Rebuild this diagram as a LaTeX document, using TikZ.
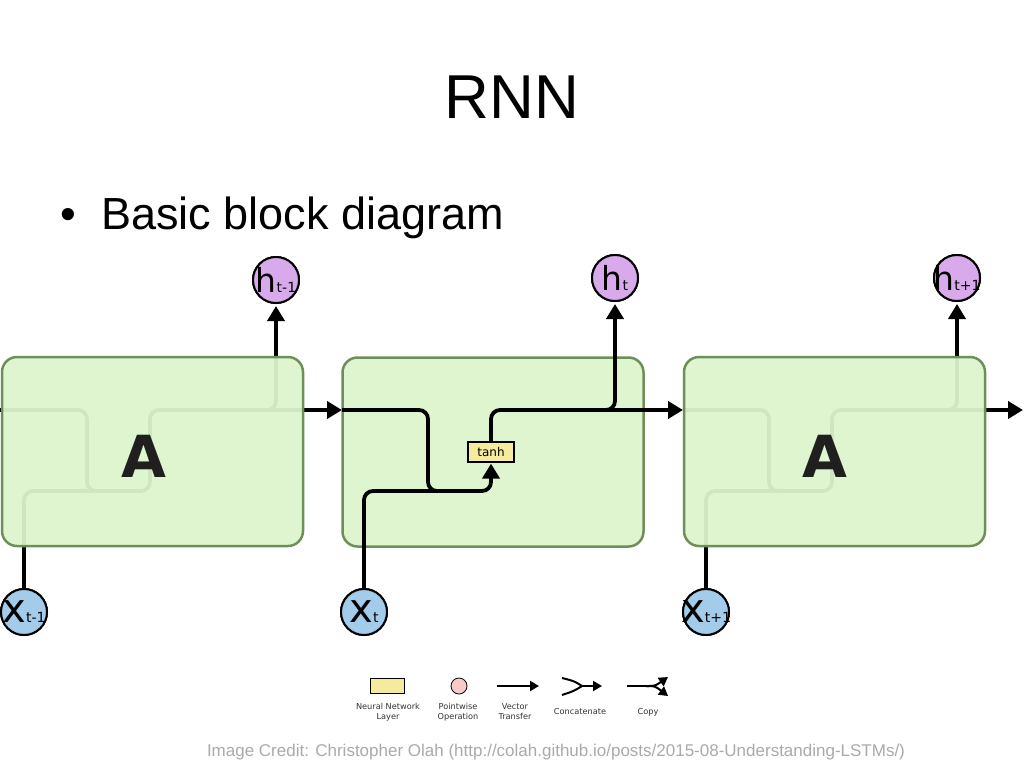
\documentclass[tikz,border=0pt]{standalone}
\usepackage{fontspec}
\setmainfont{Liberation Sans}
\newfontfamily\dejavu{DejaVu Sans}
\usetikzlibrary{arrows.meta}
\definecolor{boxfill}{HTML}{DEF5CD}
\definecolor{boxline}{HTML}{6F8F5A}
\definecolor{hcol}{HTML}{D9AAEB}
\definecolor{xcol}{HTML}{A3CBEA}
\definecolor{layercol}{HTML}{F5EB9E}
\definecolor{pwcol}{HTML}{F8CACA}
\definecolor{creditgray}{HTML}{AAAAAA}
\newcommand\hlab[1]{\makebox[0pt]{{\fontsize{33}{33}\selectfont h}{\fontsize{14}{14}\selectfont #1}}}
\newcommand\xlab[1]{\makebox[0pt]{{\fontsize{40}{40}\selectfont x}{\fontsize{14}{14}\selectfont #1}}}
\begin{document}
\begin{tikzpicture}[x=1pt,y=-1pt,
  cellbox/.style={draw=boxline, line width=2.5pt, fill=boxfill, fill opacity=0.94,
    rounded corners=15pt, minimum width=301pt, minimum height=189pt, inner sep=0pt},
  bigA/.style={font=\dejavu\bfseries\fontsize{58}{58}\selectfont, text=black!88, inner sep=0pt},
  wire/.style={line width=3.8pt, rounded corners=9pt, draw=black},
  arr/.style={wire, -{Triangle[length=15pt,width=17pt]}},
  hnode/.style={circle, draw, line width=2pt, fill=hcol, minimum size=46pt, inner sep=0pt, font=\dejavu},
  xnode/.style={circle, draw, line width=2pt, fill=xcol, minimum size=46pt, inner sep=0pt, font=\dejavu},
  layer/.style={draw, line width=1.2pt, fill=layercol, minimum width=46pt, minimum height=20pt,
    inner sep=0pt, font=\dejavu\fontsize{12}{12}\selectfont},
  legtext/.style={font=\dejavu\fontsize{8.2}{10}\selectfont, align=center, text=black!80},
  legwire/.style={line width=2pt, draw=black},
  legarr/.style={legwire, -{Triangle[length=9pt,width=10pt]}},
]
\useasboundingbox (0,0) rectangle (1024,768);
\fill[white] (0,0) rectangle (1024,768);

% title and bullet
\node[font=\fontsize{62}{62}\selectfont, anchor=base] (title) at (512,118) {RNN};
\node[font=\fontsize{45}{45}\selectfont, anchor=base] (bul) at (68,229) {•};
\node[font=\fontsize{45}{45}\selectfont, anchor=base west, inner sep=0pt] (sub) at (101,229) {Basic block diagram};

% circles (placed first so that wires can refer to them; redrawn on top later)
\path
  (276,280) node[hnode] (h1) {\hlab{t-1}}
  (615,278) node[hnode] (h2) {\hlab{t}}
  (957,278) node[hnode] (h3) {\hlab{t+1}}
  (24,612)  node[xnode] (x1) {\xlab{t-1}}
  (364,612) node[xnode] (x2) {\xlab{t}}
  (706,612) node[xnode] (x3) {\xlab{t+1}};

% ---------- left cell ----------
\coordinate (inA) at (0,410);
\coordinate (tA) at (87,491);
\coordinate (mA) at (150,491);
\coordinate (outA) at (342,410);
\coordinate (jA) at (220,410);
\draw[wire] (inA) -| (tA) -- (120,491);
\draw[arr] (x1.north) |- (mA) |- (outA);
\draw[arr, shorten >=2pt] (jA) -| (h1.south);
\node[cellbox] (A1) at (152.5,451.5) {};
\node[bigA] (lA1) at (144,456) {A};

% ---------- right cell ----------
\coordinate (inC) at (684,410);
\coordinate (tC) at (769,491);
\coordinate (mC) at (832,491);
\coordinate (outC) at (1023,410);
\coordinate (jC) at (900,410);
\draw[wire] (inC) -| (tC) -- (800,491);
\draw[arr] (x3.north) |- (mC) |- (outC);
\draw[arr, shorten >=2pt] (jC) -| (h3.south);
\node[cellbox] (A3) at (834.5,451.5) {};
\node[bigA] (lA3) at (825,456) {A};

% ---------- middle cell ----------
\node[cellbox] (A2) at (493,452) {};
\node[layer] (tanh) at (491,452) {tanh};
\coordinate (inB) at (342,410);
\coordinate (tB) at (428,491);
\coordinate (mB) at (491,491);
\coordinate (outB) at (683,410);
\coordinate (jB) at (560,410);
\draw[wire] (inB) -| (tB) -- (470,491);
\draw[arr, shorten >=1pt] (x2.north) |- (mB) -- (tanh.south);
\draw[arr] (tanh.north) |- (outB);
\draw[arr, shorten >=2pt] (jB) -| (h2.south);

% circles on top
\path
  (276,280) node[hnode] {\hlab{t-1}}
  (615,278) node[hnode] {\hlab{t}}
  (957,278) node[hnode] {\hlab{t+1}}
  (24,612)  node[xnode] {\xlab{t-1}}
  (364,612) node[xnode] {\xlab{t}}
  (706,612) node[xnode] {\xlab{t+1}};

% ---------- legend ----------
\node[draw, line width=0.8pt, fill=layercol, minimum width=34pt, minimum height=15pt, inner sep=0pt] (legL) at (387,686) {};
\node[circle, draw, line width=0.8pt, fill=pwcol, minimum size=16pt, inner sep=0pt] (legP) at (459,686) {};
\coordinate (v1) at (497,686);
\coordinate (v2) at (539,686);
\draw[legarr] (v1) -- (v2);
\coordinate (c1) at (562,678);
\coordinate (c2) at (562,695);
\coordinate (cm) at (582,686);
\coordinate (c3) at (602,686);
\draw[legwire] (c1) .. controls (574,681) .. (cm);
\draw[legwire] (c2) .. controls (574,691) .. (cm);
\draw[legarr] (cm) -- (c3);
\coordinate (p1) at (627,686);
\coordinate (pm) at (646,686);
\coordinate (p2) at (668,677);
\coordinate (p3) at (668,696);
\draw[legwire] (p1) -- (pm);
\draw[legarr] (pm) .. controls (655,686) .. (p2);
\draw[legarr] (pm) .. controls (655,686) .. (p3);
\node[legtext] (lt1) at (388,712) {Neural Network\\Layer};
\node[legtext] (lt2) at (458,712) {Pointwise\\Operation};
\node[legtext] (lt3) at (515,712) {Vector\\Transfer};
\node[legtext] (lt4) at (580,712) {Concatenate};
\node[legtext] (lt5) at (648,712) {Copy};

% credit
\node[font=\fontsize{17}{17}\selectfont, text=creditgray] (credit) at (556,752) {Image Credit: Christopher Olah (http://colah.github.io/posts/2015-08-Understanding-LSTMs/)};
\end{tikzpicture}
\end{document}
